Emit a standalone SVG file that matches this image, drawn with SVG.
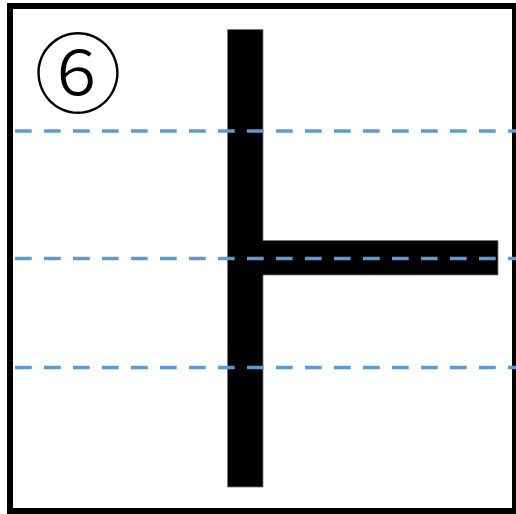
<svg xmlns="http://www.w3.org/2000/svg" width="516" height="514" viewBox="0 0 516 514">
<style>
.bar{fill:#000;stroke:#777;stroke-width:0.8}
.guide{stroke:#5b9bd5;stroke-width:3.5;stroke-dasharray:16.7 12.3;fill:none}
.num{font-family:"Noto Sans CJK JP","Noto Sans CJK SC",sans-serif;font-weight:300;font-size:88px;fill:#000}
</style>
<rect x="0" y="0" width="516" height="514" fill="#fff"/>
<g id="frame"><rect x="10" y="6" width="505" height="505" fill="none" stroke="#000" stroke-width="6"/></g>
<g id="label"><text class="num" x="78" y="106" text-anchor="middle">⑥</text></g>
<g id="stroke">
<path class="bar" d="M227.5 29.5H263V240.5H498V275H263V487H227.5Z"/>
</g>
<g id="guides">
<line class="guide" x1="15" y1="131" x2="516" y2="131"/>
<line class="guide" x1="15" y1="258.5" x2="516" y2="258.5"/>
<line class="guide" x1="15" y1="367.5" x2="516" y2="367.5"/>
</g>
</svg>
